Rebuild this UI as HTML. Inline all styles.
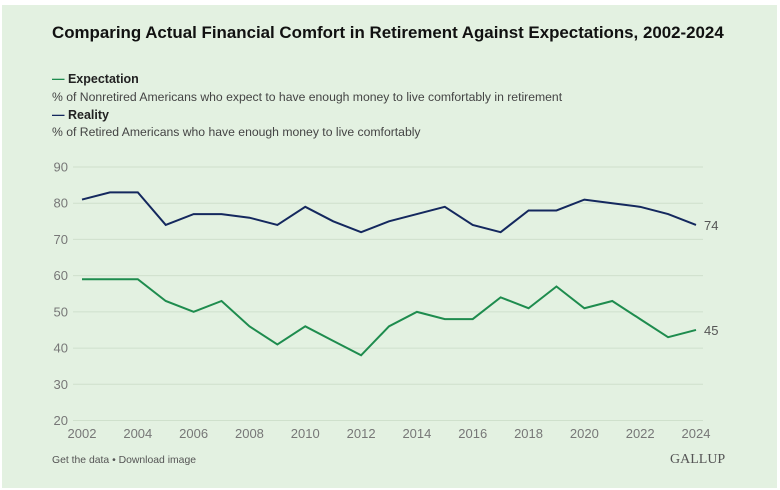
<!DOCTYPE html>
<html><head><meta charset="utf-8"><style>
html,body{margin:0;padding:0;background:#fff;width:780px;height:490px;overflow:hidden;font-family:"Liberation Sans",sans-serif;}
#panel{position:absolute;left:2px;top:5px;width:775px;height:483px;background:#e3f1e1;}
.t{position:absolute;white-space:nowrap;}
</style></head><body>
<div id="panel"></div>
<div class="t" style="left:52px;top:23px;font-size:16.9px;font-weight:bold;color:#111;">Comparing Actual Financial Comfort in Retirement Against Expectations, 2002-2024</div>
<div class="t" style="left:52px;top:72px;font-size:12.5px;font-weight:bold;color:#222;"><span style="color:#1e8c4e">—</span> Expectation</div>
<div class="t" style="left:52px;top:90px;font-size:12.2px;color:#444;">% of Nonretired Americans who expect to have enough money to live comfortably in retirement</div>
<div class="t" style="left:52px;top:108px;font-size:12.5px;font-weight:bold;color:#222;"><span style="color:#14285e">—</span> Reality</div>
<div class="t" style="left:52px;top:125px;font-size:12.2px;color:#444;">% of Retired Americans who have enough money to live comfortably</div>
<svg id="chart" width="780" height="490" style="position:absolute;left:0;top:0;"></svg>
<div class="t" style="left:52px;top:455px;font-size:10.4px;color:#555;">Get the data • Download image</div>
<div class="t" style="left:670px;top:452px;font-size:14px;font-family:'Liberation Serif',serif;color:#555;">GALLUP</div>
<script>
const years=[2002,2003,2004,2005,2006,2007,2008,2009,2010,2011,2012,2013,2014,2015,2016,2017,2018,2019,2020,2021,2022,2023,2024];
const reality=[81,83,83,74,77,77,76,74,79,75,72,75,77,79,74,72,78,78,81,80,79,77,74];
const expectation=[59,59,59,53,50,53,46,41,46,42,38,46,50,48,48,54,51,57,51,53,48,43,45];
const yTicks=[20,30,40,50,60,70,80,90];
const xTicks=[2002,2004,2006,2008,2010,2012,2014,2016,2018,2020,2022,2024];
const svg=document.getElementById('chart');const NS='http://www.w3.org/2000/svg';
const x=v=>82+(v-2002)*(696-82)/22;
const y=v=>420.5-(v-20)*(420.5-167)/70;
function mk(t,a){const e=document.createElementNS(NS,t);for(const k in a)e.setAttribute(k,a[k]);svg.appendChild(e);return e;}
yTicks.forEach(v=>{
 const l=mk('line',{x1:73,x2:703,y1:y(v),y2:y(v),stroke:'#cfe0cc','stroke-width':1});
 
 
 const t=mk('text',{x:68,y:y(v)+4.5,'text-anchor':'end','font-size':13,fill:'#777','font-family':'Liberation Sans, sans-serif'});
 t.textContent=v;
 
 
});
xTicks.forEach(v=>{
 const t=mk('text',{x:x(v),y:438,'text-anchor':'middle','font-size':13,fill:'#777','font-family':'Liberation Sans, sans-serif'});
 t.textContent=v;
 
 
});
function series(d,c,name){
 const p=mk('polyline',{points:d.map((v,i)=>x(years[i])+','+y(v)).join(' '),fill:'none',stroke:c,'stroke-width':2,'stroke-linejoin':'miter'});
 
 
 const last=d[d.length-1];
 const t=mk('text',{x:x(years[years.length-1])+8,y:y(last)+5,'font-size':13,fill:'#555','font-family':'Liberation Sans, sans-serif'});
 t.textContent=last;
 
 
}
series(reality,'#14285e','reality');
series(expectation,'#1e8c4e','expectation');
</script>
</body></html>
